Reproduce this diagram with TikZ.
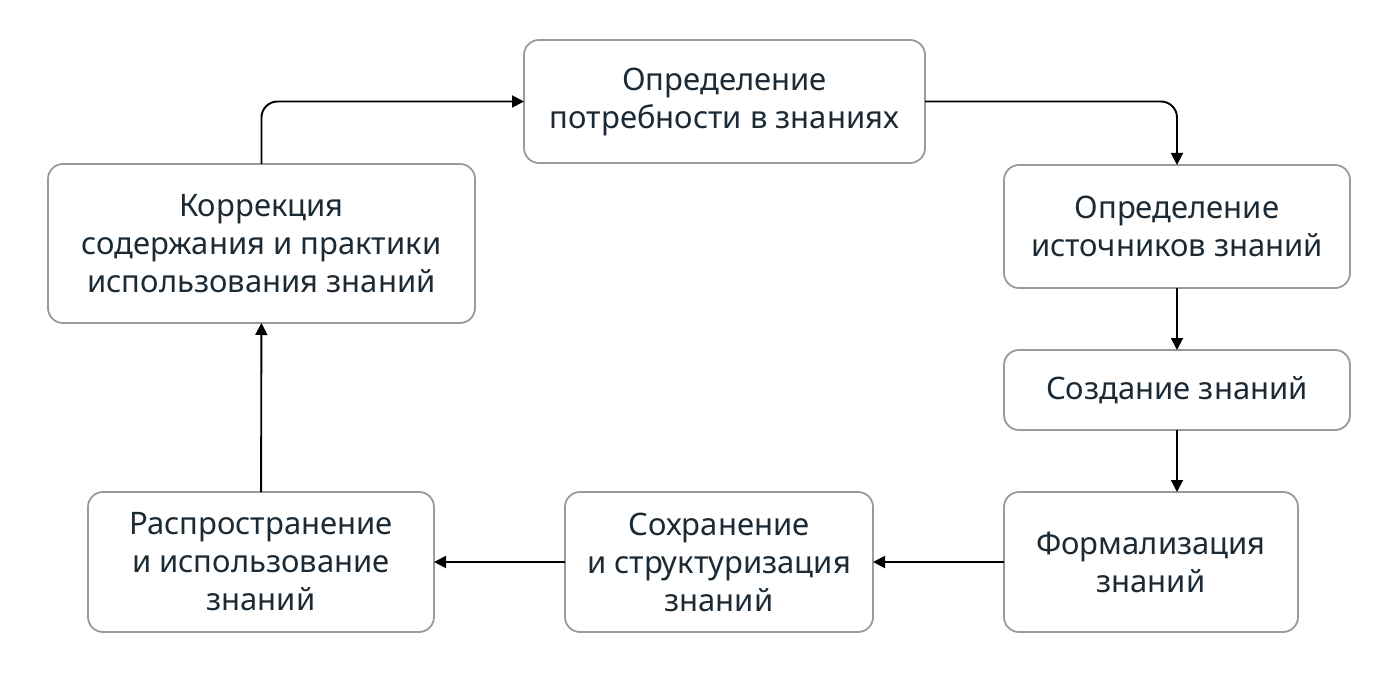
\documentclass[tikz,border=0pt]{standalone}
\usepackage{fontspec}
\setmainfont{Noto Sans}
\usetikzlibrary{arrows.meta,positioning}
\definecolor{boxline}{HTML}{9A9A9A}
\definecolor{boxtext}{HTML}{1B2A35}

\begin{document}
\begin{tikzpicture}[x=0.5pt,y=-0.5pt,
	stage/.style={draw=boxline, line width=0.9pt, rounded corners=7.5pt, fill=white,
		text=boxtext, align=center, inner sep=0pt, outer sep=0pt,
		font=\fontsize{15.5pt}{19pt}\selectfont},
	flow/.style={-{Triangle[length=6pt,width=6pt]}, line width=0.95pt, black}]
		\useasboundingbox (0,0) rectangle (1398,674);

		\draw (724.5,101.5) node [stage, minimum width=200.5pt, minimum height=61.5pt] (need) {Определение\\потребности в знаниях};
		\draw (1177,226.5) node [stage, minimum width=173pt, minimum height=61.5pt] (src) {Определение\\источников знаний};
		\draw (1177,390) node [stage, minimum width=173pt, minimum height=40pt] (create) {Создание знаний};
		\draw (1151,562) node [stage, minimum width=147pt, minimum height=70pt] (formal) {Формализация\\знаний};
		\draw (719,562) node [stage, minimum width=154pt, minimum height=70pt] (store) {Сохранение\\и структуризация\\знаний};
		\draw (261,562) node [stage, minimum width=173pt, minimum height=70pt] (spread) {Распространение\\и использование\\знаний};
		\draw (261.5,243.5) node [stage, minimum width=213.5pt, minimum height=79.5pt] (fix) {Коррекция\\содержания и практики\\использования знаний};

		\draw [flow, rounded corners=8pt] (fix.north) |- (need.west);
		\draw [flow, rounded corners=8pt] (need.east) -| (src.north);
		\draw [flow] (create.south) -- (create.south |- formal.north);
		\draw
			(src) edge [flow] (create)
			(formal) edge [flow] (store)
			(store) edge [flow] (spread)
			(spread) edge [flow] (fix)
		;
	\end{tikzpicture}
\end{document}
